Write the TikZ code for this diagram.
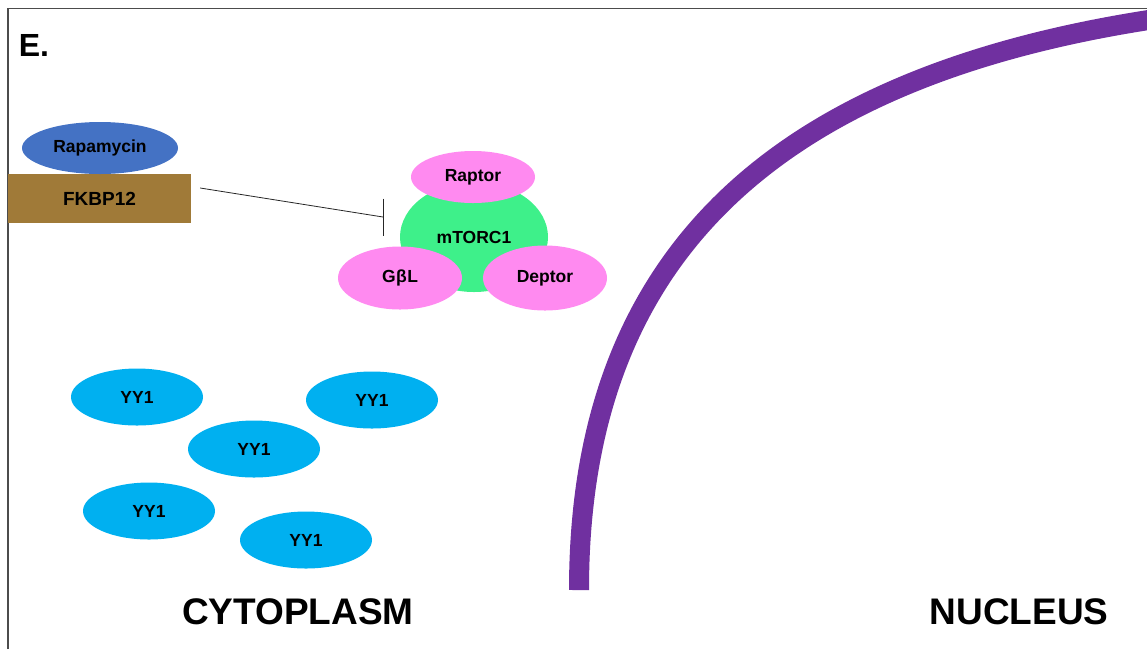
\documentclass[tikz,border=0pt]{standalone}
\usepackage{fontspec}
\setmainfont{Liberation Sans}
\usetikzlibrary{shapes,positioning,calc}
\definecolor{rapablue}{RGB}{68,114,196}
\definecolor{fkbrown}{RGB}{160,122,56}
\definecolor{torgreen}{RGB}{62,240,138}
\definecolor{subpink}{RGB}{255,138,240}
\definecolor{yycyan}{RGB}{0,176,240}
\definecolor{nucpurple}{RGB}{112,48,160}
\tikzset{
  blob/.style={ellipse, inner sep=0pt, font=\fontsize{17.5}{20}\selectfont\bfseries},
  subunit/.style={blob, fill=subpink, minimum width=124pt, minimum height=63pt},
  yy/.style={blob, fill=yycyan, minimum width=132pt, minimum height=57pt},
  bigword/.style={font=\fontsize{37}{40}\selectfont\bfseries}
}

\begin{document}
\begin{tikzpicture}[x=1pt,y=-1pt]
      \useasboundingbox (0,0) rectangle (1147,649);
      \draw[gray!60!black, line width=1.2pt] (8,649) -- (8,8.5) -- (1147,8.5);
      \node[font=\fontsize{32}{36}\selectfont\bfseries] (panel) at (34,45) {E.};
      %
      \node[fill=fkbrown, inner sep=0pt, minimum width=183pt, minimum height=49pt,
        font=\fontsize{19}{22}\selectfont\bfseries] (fkbp) at (99.5,198.5) {FKBP12};
      \node[blob, fill=rapablue, minimum width=156pt, minimum height=52pt] (rapa) at (100,148) {Rapamycin};
      %
      \node[blob, fill=torgreen, minimum width=148pt, minimum height=110pt] (mtorc) at (474,237) {mTORC1};
      \node[subunit, minimum height=52pt] (raptor) at (473,177) {Raptor};
      \node[subunit] (gbl) at (400,278) {G\kern0.5pt β\kern0.5pt L};
      \node[subunit, minimum height=65pt] (deptor) at (545,278) {Deptor};
      %
      \coordinate (inh) at (383,217);
      \draw[gray!30!black, line width=0.8pt] (fkbp.east) ++(9,-10.5) -- (inh);
      \draw[gray!30!black, line width=0.8pt] ($(inh)+(0,-18.5)$) -- ($(inh)+(0,18.5)$);
      %
      \node[yy] (yya) at (137,397) {YY1};
      \node[yy] (yyb) at (372,400) {YY1};
      \node[yy] (yyc) at (254,449) {YY1};
      \node[yy] (yyd) at (149,511) {YY1};
      \node[yy] (yye) at (306,540) {YY1};
      %
      \draw[nucpurple, line width=20pt] (579,590) .. controls (579,262) and (767,78) .. (1155,19);
      %
      \node[bigword] (cyto) at (298,612) {CYTOPLASM};
      \node[bigword] (nuc) at (1019,612) {NUCLEUS};
    \end{tikzpicture}
\end{document}
